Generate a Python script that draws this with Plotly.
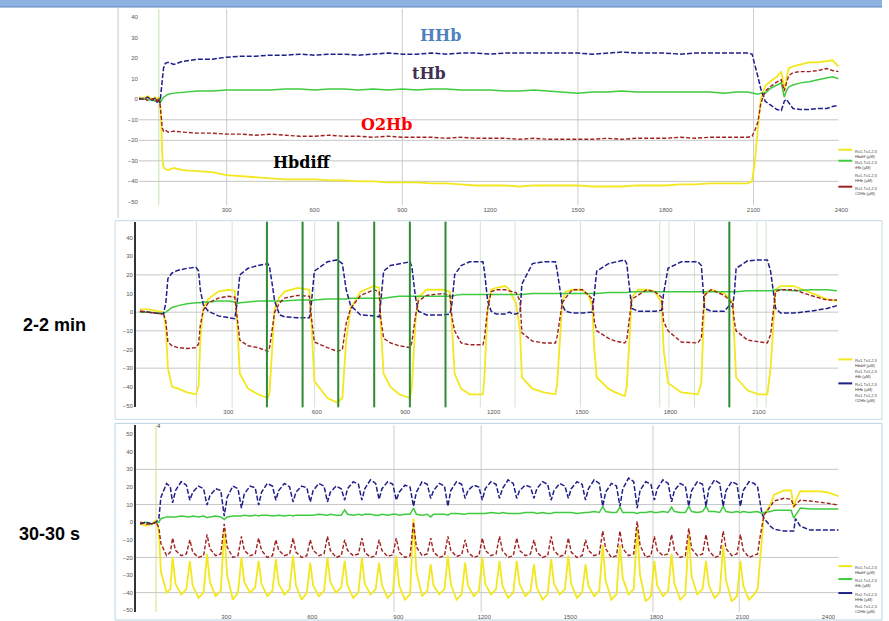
import plotly.graph_objects as go

W, H = 889, 621


def px(x):
    return x / W


def py(y):
    return 1 - y / H


# ---------------- Panel 1 : sustained occlusion (time in s, values in µM) ----------------
t1 = [0, 15, 30, 45, 55, 62, 68, 72, 76, 80, 84, 90, 100, 120, 150,
      200, 250, 300, 350, 400, 450, 500, 550, 600, 650, 700, 750, 800, 850, 900, 950,
      1000, 1050, 1100, 1150, 1200, 1250, 1300, 1350, 1400, 1450, 1500, 1550, 1600,
      1650, 1700, 1750, 1800, 1850, 1900, 1950, 2000,
      2040, 2080,
      2095, 2105, 2115, 2125, 2140, 2160, 2180, 2195, 2205, 2212, 2220, 2235, 2260,
      2290, 2320, 2350, 2370, 2390]
hhb1 = [0.5, 0, 1, -0.5, 0.5, -1.5, 0, -2, 4, 12, 15, 17.5, 18, 17, 18.5,
        19.5, 19.5, 20.5, 21, 21, 21.5, 21.5, 22, 21.5, 22, 22, 21.5, 22, 22.5, 22, 22,
        22.5, 22, 22.5, 22.5, 22, 22.5, 22.5, 22.5, 22.5, 22.5, 22.5, 22, 22.5,
        23, 22.5, 22.5, 22.5, 22, 22.5, 22.5, 22.5,
        22.5, 22.5,
        22, 17, 11, 5, -1, -3, -5, -5.5, -1, 0, -1.5, -4.5, -5,
        -5, -4.5, -4.5, -3.5, -3]
thb1 = [0, 0.5, -0.5, 0, -1, 0, -1, 0, -1, 0.5, 1, 1.5, 2.5, 3, 3.5,
        4, 4, 4.5, 4.5, 4.5, 4.5, 5, 5, 4.5, 5, 5, 4.5, 5, 4.5, 5, 4.5,
        5, 5, 4.5, 4.5, 4.5, 4, 4, 4.5, 4, 3.5, 3, 3.5, 3.5,
        4, 3.5, 3.5, 3.5, 3.5, 3.5, 3.5, 3,
        3.5, 3.5,
        3, 2.5, 2.5, 3, 3, 5.5, 7, 8, 1, 4, 6, 7, 8,
        8.5, 9.5, 10.5, 11, 10]
o2hb1 = [0, 0.5, -0.5, 0, 0.5, -1, 0.5, -2, -8, -14, -15.5, -15, -16, -15.5, -16,
         -16.5, -16.5, -17, -17, -17.5, -17, -17.5, -18, -18, -17.5, -18, -18, -18.5, -18, -18.5, -18.5,
         -18.5, -19, -18.5, -19, -19, -19, -19.5, -19, -19.5, -19.5, -19.5, -19.5, -19,
         -19.5, -19, -19, -19, -18.5, -19, -18.5, -18.5,
         -18.5, -18.5,
         -18, -15, -11, -2, 4, 6.5, 8.5, 9.5, 4, 8, 11.5, 13, 13.5,
         13.5, 14, 15, 14, 13.5]
hbdiff1 = [1, 0.5, 1.5, 0, 1, -0.5, 1, -1, -10, -28, -33, -34, -34.5, -33.5, -34.5,
           -35, -35.5, -37, -37.5, -38, -38.5, -39, -39, -39, -39.5, -39.5, -40, -40, -40.5, -40.5, -40.5,
           -41, -41, -41.5, -42, -42, -42, -42.5, -42, -42, -42, -42, -42.5, -42.5,
           -42.5, -42, -42, -42, -41.5, -41.5, -41, -41,
           -41, -41,
           -40, -30, -14, 0, 6.5, 9, 11, 13.5, 5, 9, 15, 16, 17,
           18, 18, 18.5, 19, 16]

# ---------------- Panel 2 : 2-2 min ----------------
t2 = [0, 30, 60, 80,
      88, 95, 109, 130, 160, 190, 199, 205, 215, 232, 266, 300, 322,
      330, 339, 367, 401, 434, 440, 450, 457, 474, 491, 535, 575,
      582, 592, 636, 670, 687, 700, 715, 749, 794, 812,
      817, 827, 850, 880, 917, 923, 935, 945, 973, 1029, 1052,
      1059, 1068, 1090, 1119, 1164, 1169, 1180, 1192, 1209, 1240, 1254, 1265, 1276,
      1290, 1296, 1332, 1370, 1410, 1416, 1433, 1444, 1467, 1501, 1523, 1535,
      1542, 1550, 1590, 1613, 1645, 1652, 1669, 1691, 1720, 1747, 1770,
      1777, 1792, 1837, 1893, 1905, 1916, 1938, 1983, 2000, 2011,
      2017, 2023, 2062, 2100, 2129, 2140, 2157, 2174, 2219, 2275, 2331, 2365]
hhb2 = [0.5, 0, -0.5, -1,
        5, 18, 21, 22.5, 23.5, 24, 22, 12, 4, 0.5, -2, -3, -3.5,
        5, 20, 23.5, 25, 26, 24, 14, 6, -1.5, -2.5, -3, -3,
        5, 22, 27, 28, 26, 12, 3.5, -1.5, -2, -2.5,
        5, 22, 25, 26, 27, 24, 8, 0.5, -1.5, -1.5, -1,
        5, 20, 25, 27, 27, 22, 6, 0.5, -1, -1, 0, -1, -1,
        0, 15, 26, 27, 27, 22, 4, 0.5, -0.5, -0.5, 0, 0,
        10, 22, 26, 27, 28, 26, 2, 0.5, 0.5, 0.5, 1,
        10, 23.5, 27, 27, 25, 2, 0.5, 0.5, 3.5, 3,
        10, 23.5, 27.5, 28, 28, 22, 2, -0.5, -0.5, 0.5, 2, 3.5]
o2hb2 = [0.5, 0, -0.5, -1,
         -5, -16, -18, -19, -19.5, -19, -17, -7, 1, 5, 7.5, 8.5, 8,
         -2, -15, -18, -19, -21, -19, -8, 0, 5, 7.5, 9, 8.5,
         -3, -16, -19, -21, -20, -6, 2, 9, 12, 11,
         -3, -14, -16.5, -18, -19, -16, -2, 6, 9, 10, 9,
         -3, -10, -16.5, -17.5, -17.5, -14, 2, 11, 12, 12, 11.5, 11, 10.5,
         6, -11, -15.5, -16.5, -16.5, -13, 5, 7.5, 12, 12, 9, 7,
         -5, -10, -14, -15.5, -16.5, -15, 7, 9, 12, 11, 8,
         -5, -10, -16, -16.5, -14, 9, 12, 9, 6.5, 4,
         -5, -10, -15, -16, -16.5, -12, 11, 12, 12, 9, 6.5, 6.5]
hbdiff2 = [1.5, 1.5, 0.5, 0,
           -8, -30, -40, -41, -43, -44, -40, -15, 2, 7, 11, 12, 11.5,
           -5, -33, -41, -44, -46, -43, -15, 2, 8, 11, 13, 12,
           -6, -37, -46, -48.5, -46, -15, 2, 11, 14, 13,
           -6, -33, -40, -44, -46, -40, -5, 8, 12, 12, 11,
           -8, -33, -41, -44, -44, -35, 2, 12, 13, 14, 12, 8, 5,
           -10, -35, -41, -43, -44, -38, 5, 11, 12, 12, 9, 3,
           -20, -35, -41, -43, -45, -40, 8, 12, 12, 11, 5,
           -20, -38, -43, -44, -38, 10, 12, 10, 7.5, 5,
           -15, -35, -42, -44, -44, -30, 12, 14, 14, 10.5, 7, 6]
thb2 = [0, 0, -0.5, -0.5,
        0, 1, 2.5, 3.5, 4.5, 5, 5, 5, 5.5, 5.5, 6, 6, 5.5,
        4.5, 5, 5.5, 6, 6, 6, 6, 6, 6, 6, 6.5, 6.5,
        6, 6.5, 7, 7, 7, 7, 7.5, 7.5, 7.5, 7.5,
        7, 7.5, 8, 8.5, 8.5, 8.5, 8.5, 8.5, 8.5, 8.5, 8.5,
        8.5, 9, 9.5, 9.5, 9.5, 9.5, 9.5, 9.5, 9.5, 9.5, 9.5, 9.5, 9.5,
        9.5, 9.5, 10, 10, 10, 10, 10, 10, 10, 10, 10, 10,
        10, 10, 10.5, 10.5, 10.5, 10.5, 11, 11, 11, 11, 11,
        11, 11, 11, 11, 11, 11, 11, 11, 11, 11,
        11, 11, 11.5, 11.5, 11.5, 11.5, 12, 12, 11.5, 12, 12, 11.5]

# event markers of panel 2 (s)
thick_marks2 = [431, 552, 673, 795, 916, 1037, 2000]
thin_marks2 = [192, 313, 593, 1155, 1273, 1495, 1764, 1795, 1882, 2094, 2125]

# ---------------- Panel 3 : 30-30 s ----------------
t3_pre = [0, 20, 40, 55, 65, 72, 92, 105]
cycle_dips3 = [113, 173, 233, 293, 353, 413, 473, 533, 593, 653, 713, 773, 833, 893,
               953, 1013, 1073, 1133, 1193, 1253, 1313, 1373, 1433, 1493, 1553, 1613,
               1673, 1733, 1793, 1853, 1913, 1973, 2033, 2093]
cycle_offsets3 = [0, 10, 30, 48]
t3_rec = [2153, 2160, 2168, 2175, 2198, 2210, 2245, 2270, 2279, 2285, 2302, 2337, 2370, 2395, 2435]

hhb3_pre = [-1, 0, -1, 0, 2, 14, 22, 20]
hhb3_cyc = [[11, 18, 23, 21], [12.5, 17, 20.5, 19], [9.7, 15, 19, 18], [3.4, 14, 20.5, 19],
            [8, 16, 20.5, 19.5], [9.7, 17, 22, 20.5], [12.5, 18, 22, 20], [11.5, 17, 20.5, 19.5],
            [11.5, 18, 22, 20.5], [11.5, 17, 20.5, 19], [12.5, 19, 23, 21.5], [12.5, 19, 24, 22],
            [13, 19, 23, 21.5], [12.5, 17, 21, 20], [9, 17, 23, 21.5], [13.5, 18, 22, 20.5],
            [9, 18, 23, 21.5], [13.5, 18, 21, 20], [12.5, 19, 23, 21.5], [13.5, 19, 24, 22],
            [13.5, 18, 21, 20], [13.5, 19, 23, 21.5], [12.5, 18, 22, 20.5], [13.5, 19, 23, 21.5],
            [12.5, 19, 24, 22], [9, 17, 22, 20.5], [9, 19, 25, 23], [8, 18, 23, 21.5],
            [12.5, 19, 24, 22], [11.5, 18, 22, 20.5], [9, 18, 23, 21.5], [9, 19, 24, 22],
            [9, 18, 23, 21.5], [9, 18, 23, 22]]
hhb3_rec = [20, 12, 5, 2.3, -2.3, -4, -5, -5, -5, 2, -2.3, -4.5, -4.5, -4.5, -4.5]

o2hb3_pre = [0, -1, -1, 0, -3, -12, -19, -17]
o2hb3_cyc = [[-9, -16, -19, -18], [-10, -17, -20, -19], [-7, -15, -19, -18], [-1, -14, -20, -19],
             [-8, -16, -19, -18], [-9, -16, -20, -19], [-10, -16, -19, -18], [-9, -17, -20, -19],
             [-10, -16, -19, -18], [-8, -16, -20, -19], [-10, -16, -19, -18], [-9, -17, -20, -19],
             [-10, -16, -19.5, -18.5], [-9, -17, -20, -19], [0, -14, -19, -18], [-9, -17, -20, -19],
             [-8, -16, -19.5, -18.5], [-10, -17, -20, -19], [-9, -16, -19, -18], [-8, -16, -20, -19],
             [-9, -16, -19, -18], [-10, -17, -20, -19], [-8, -16, -19.5, -18.5], [-9, -17, -20, -19],
             [-10, -16, -19, -18], [-5, -15, -20, -19], [-5, -15, -19, -18], [0.5, -13, -20, -19],
             [-8, -16, -19, -18], [-7, -16, -20, -19], [-3.5, -15, -19, -18], [-7, -16, -20, -19],
             [-5, -15, -19, -18], [-7, -16, -20, -19]]
o2hb3_rec = [-18, -10, -3, 4, 9, 12, 13.6, 13, 9, 10, 12.5, 12, 11.5, 10.8, 9.7]

hbdiff3_pre = [-1, -2, -1, 1, -5, -28, -40, -38]
hbdiff3_cyc = [[-20, -35, -41, -38], [-22, -36, -43, -40], [-18, -34, -42, -39], [-4, -30, -44, -40],
               [-20, -34, -40, -37], [-22, -35, -42, -39], [-21, -35, -41, -38], [-19, -36, -44, -40],
               [-23, -36, -42, -39], [-20, -34, -40, -37], [-22, -36, -43, -40], [-20, -35, -41, -38],
               [-23, -36, -43, -40], [-19, -36, -44, -41], [2, -28, -42, -39], [-24, -36, -41, -38],
               [-19, -35, -44, -41], [-23, -36, -42, -39], [-20, -35, -41, -38], [-22, -36, -43, -40],
               [-22, -35, -42, -39], [-24, -37, -44, -41], [-21, -35, -41, -38], [-19, -35, -43, -40],
               [-24, -36, -42, -39], [-13, -33, -44, -41], [-13, -32, -41, -38], [-3, -30, -45, -42],
               [-22, -36, -42, -39], [-18, -35, -44, -41], [-7, -31, -41, -38], [-22, -36, -43, -40],
               [-13, -33, -45, -42], [-22, -36, -44, -41]]
hbdiff3_rec = [-38, -25, -10, 4, 10, 15.5, 18, 18, 8, 12, 17.6, 17.5, 17.5, 17, 14.8]

thb3_pre = [-0.5, 0, -1, 0, 0, 2, 3, 3]
thb3_cyc = [[3, 3, 3.5, 3], [3, 3.5, 3, 3.5], [2.5, 3, 3.5, 3], [1.5, 3, 3.5, 3.5],
            [3.5, 4, 3.5, 4], [3.5, 4, 4, 3.5], [4, 4, 3.5, 4], [3.5, 4, 4, 4],
            [4, 4, 4.5, 4], [4, 4.5, 4, 4], [7, 4.5, 4, 4.5], [4, 4.5, 4.5, 4],
            [4, 4.5, 4, 4.5], [4.5, 4, 4.5, 4.5], [8, 4.5, 4, 4.5], [3, 4.5, 4.5, 4.5],
            [4, 5, 5, 4.5], [4.5, 5, 5, 5], [5, 5, 5.5, 5], [5, 5.5, 5, 5],
            [5, 5, 5.5, 5.5], [5.5, 5, 5.5, 5], [5, 5.5, 5.5, 5.5], [5.5, 5.5, 5, 5.5],
            [5.5, 5.5, 6, 5.5], [9, 6, 5.5, 5.5], [8.5, 5.5, 5.5, 5.5], [5, 5.5, 5.5, 6],
            [5.5, 5.5, 6, 5.5], [8.5, 6, 5.5, 5.5], [9, 6, 5.5, 6], [9, 6, 6, 5.5],
            [9, 6, 5.5, 6], [5.5, 6, 5.5, 6]]
thb3_rec = [6, 5.5, 5, 5.5, 6, 6.8, 6.8, 6.8, 2.3, 4, 8, 7.5, 7.5, 7.5, 7.5]

grid_marks3 = [885, 1189, 1788, 2089]

t3 = t3_pre + [d + o for d in cycle_dips3 for o in cycle_offsets3] + t3_rec


def flat(pre, cyc, rec):
    return pre + [v for row in cyc for v in row] + rec


hhb3 = flat(hhb3_pre, hhb3_cyc, hhb3_rec)
o2hb3 = flat(o2hb3_pre, o2hb3_cyc, o2hb3_rec)
hbdiff3 = flat(hbdiff3_pre, hbdiff3_cyc, hbdiff3_rec)
thb3 = flat(thb3_pre, thb3_cyc, thb3_rec)

# ---------------- styling ----------------
YEL = '#f3e71f'
GRN = '#3fcb3f'
BLU = '#1f1f8a'
RED = '#a02020'

fig = go.Figure()


def add_panel(t, yel, grn, blu, red, xa, ya):
    common = dict(x=t, mode='lines', xaxis=xa, yaxis=ya, showlegend=False, hoverinfo='skip')
    fig.add_trace(go.Scatter(y=yel, line=dict(color=YEL, width=1.8), **common))
    fig.add_trace(go.Scatter(y=grn, line=dict(color=GRN, width=1.5), **common))
    fig.add_trace(go.Scatter(y=blu, line=dict(color=BLU, width=1.5, dash='5px,2px'), **common))
    fig.add_trace(go.Scatter(y=red, line=dict(color=RED, width=1.4, dash='4px,2px'), **common))


add_panel(t1, hbdiff1, thb1, hhb1, o2hb1, 'x', 'y')
add_panel(t2, hbdiff2, thb2, hhb2, o2hb2, 'x2', 'y2')
add_panel(t3, hbdiff3, thb3, hhb3, o2hb3, 'x3', 'y3')

tickfont = dict(size=6, color='#555555', family='Liberation Sans')
ax_common = dict(showgrid=False, zeroline=False, ticks='', tickfont=tickfont, fixedrange=True)

shapes = []
# top banner
shapes.append(dict(type='rect', xref='paper', yref='paper', x0=0, x1=1, y0=py(7), y1=1,
                   fillcolor='#8db3e2', line=dict(width=0), layer='below'))
shapes.append(dict(type='line', xref='paper', yref='paper', x0=0, x1=1, y0=py(7), y1=py(7),
                   line=dict(color='#5f84b8', width=1)))
# panel frames
shapes.append(dict(type='line', xref='paper', yref='paper', x0=px(119), x1=px(119), y0=py(218), y1=py(8),
                   line=dict(color='#c4c4c4', width=1)))
shapes.append(dict(type='rect', xref='paper', yref='paper', x0=px(116), x1=px(889), y0=py(420), y1=py(221),
                   line=dict(color='#c6dbe6', width=1), layer='below'))
shapes.append(dict(type='rect', xref='paper', yref='paper', x0=px(116), x1=px(889), y0=py(621), y1=py(424),
                   line=dict(color='#b9d3e3', width=1), layer='below'))

GRID = '#c6c6c6'
# panel 1 grid
for v in [-10, -20, -30, -40]:
    shapes.append(dict(type='line', xref='x', yref='y', x0=0, x1=2390, y0=v, y1=v,
                       line=dict(color=GRID, width=1), layer='below'))
for tv in [300, 900, 1500, 2100]:
    shapes.append(dict(type='line', xref='x', yref='y domain', x0=tv, x1=tv, y0=0, y1=1,
                       line=dict(color='#cdcdcd', width=1), layer='below'))
shapes.append(dict(type='line', xref='x', yref='y domain', x0=68, x1=68, y0=0, y1=1,
                   line=dict(color='#c4e3ad', width=1), layer='below'))
# panel 2 grid
for v in [20, 0, -10, -30]:
    shapes.append(dict(type='line', xref='x2', yref='y2', x0=-13, x1=2370, y0=v, y1=v,
                       line=dict(color=GRID, width=1), layer='below'))
for tv in thin_marks2:
    shapes.append(dict(type='line', xref='x2', yref='y2 domain', x0=tv, x1=tv, y0=0, y1=1,
                       line=dict(color='#d3e3cc', width=1), layer='below'))
for tv in thick_marks2:
    shapes.append(dict(type='line', xref='x2', yref='y2 domain', x0=tv, x1=tv, y0=0, y1=1,
                       line=dict(color='#2e8b34', width=2)))
# panel 3 grid
for v in [30, 10, -20, -40]:
    shapes.append(dict(type='line', xref='x3', yref='y3', x0=-15, x1=2435, y0=v, y1=v,
                       line=dict(color=GRID, width=1), layer='below'))
for tv in grid_marks3:
    shapes.append(dict(type='line', xref='x3', yref='y3 domain', x0=tv, x1=tv, y0=0, y1=1,
                       line=dict(color='#cdcdcd', width=1), layer='below'))
shapes.append(dict(type='line', xref='x3', yref='y3 domain', x0=55, x1=55, y0=0, y1=1,
                   line=dict(color='#e3ebb0', width=1.5), layer='below'))

annotations = []
serif = 'DejaVu Serif'
for txt, x, y, col in [('HHb', 444, 36, '#4f81bd'), ('tHb', 432, 74, '#3f3151'),
                       ('O2Hb', 390, 125, '#ff0000'), ('Hbdiff', 304, 163, '#000000')]:
    annotations.append(dict(text='<b>%s</b>' % txt, x=px(x), y=py(y), xref='paper', yref='paper',
                            showarrow=False, xanchor='center', yanchor='middle',
                            font=dict(family=serif, size=16, color=col)))
for txt, x, y in [('2-2 min', 55, 326), ('30-30 s', 50, 535)]:
    annotations.append(dict(text='<b>%s</b>' % txt, x=px(x), y=py(y), xref='paper', yref='paper',
                            showarrow=False, xanchor='center', yanchor='middle',
                            font=dict(family='Liberation Sans', size=18, color='#000000')))
annotations.append(dict(text='4', x=px(156), y=py(432), xref='paper', yref='paper', showarrow=False,
                        font=dict(size=6, color='#333333', family='Liberation Sans')))

# small legends (right of each panel)
legend_names = ['Hbdiff', 'tHb', 'HHb', 'O2Hb']
legend_cols = [YEL, GRN, BLU, RED]
legend_rows = {
    1: ([150, 161, 174, 187], [True, True, False, True]),
    2: ([360, 371, 384, 395], [True, False, True, False]),
    3: ([567, 580, 594, 606], [True, True, True, False]),
}
for panel, (ys, show) in legend_rows.items():
    for name, col, yy, sw in zip(legend_names, legend_cols, ys, show):
        if sw:
            shapes.append(dict(type='line', xref='paper', yref='paper', x0=px(845), x1=px(859),
                               y0=py(yy), y1=py(yy), line=dict(color=col, width=2)))
        annotations.append(dict(text='Rx1-Tx1,2,3<br>%s (µM)' % name, x=px(860), y=py(yy - 3),
                                xref='paper', yref='paper', showarrow=False, xanchor='left',
                                yanchor='top', align='left',
                                font=dict(size=4, color='#444444', family='Liberation Sans')))

fig.update_layout(
    width=W, height=H, margin=dict(l=0, r=0, t=0, b=0),
    paper_bgcolor='white', plot_bgcolor='rgba(0,0,0,0)', showlegend=False,
    xaxis=dict(domain=[px(140), px(848)], range=[0, 2400], tickvals=list(range(300, 2401, 300)),
               anchor='y', showline=False, **ax_common),
    yaxis=dict(domain=[py(205.3), py(9)], range=[-51.5, 44], tickvals=list(range(-50, 41, 10)),
               anchor='x', showline=False, **ax_common),
    xaxis2=dict(domain=[px(137), px(848)], range=[-13.5, 2380], tickvals=list(range(300, 2101, 300)),
                anchor='y2', showline=False, **ax_common),
    yaxis2=dict(domain=[py(408), py(222)], range=[-51, 48.5], tickvals=list(range(-50, 41, 10)),
                anchor='x2', showline=True, linecolor='#333333', linewidth=1.5, **ax_common),
    xaxis3=dict(domain=[px(137), px(848)], range=[-15, 2445], tickvals=list(range(300, 2401, 300)),
                anchor='y3', showline=False, **ax_common),
    yaxis3=dict(domain=[py(613), py(426)], range=[-51, 55], tickvals=list(range(-50, 51, 10)),
                anchor='x3', showline=True, linecolor='#333333', linewidth=1.5, **ax_common),
    shapes=shapes, annotations=annotations,
)

fig.write_html("out.html", config={'displayModeBar': False},
               post_script="document.body.style.margin='0';document.body.style.overflow='hidden';")
